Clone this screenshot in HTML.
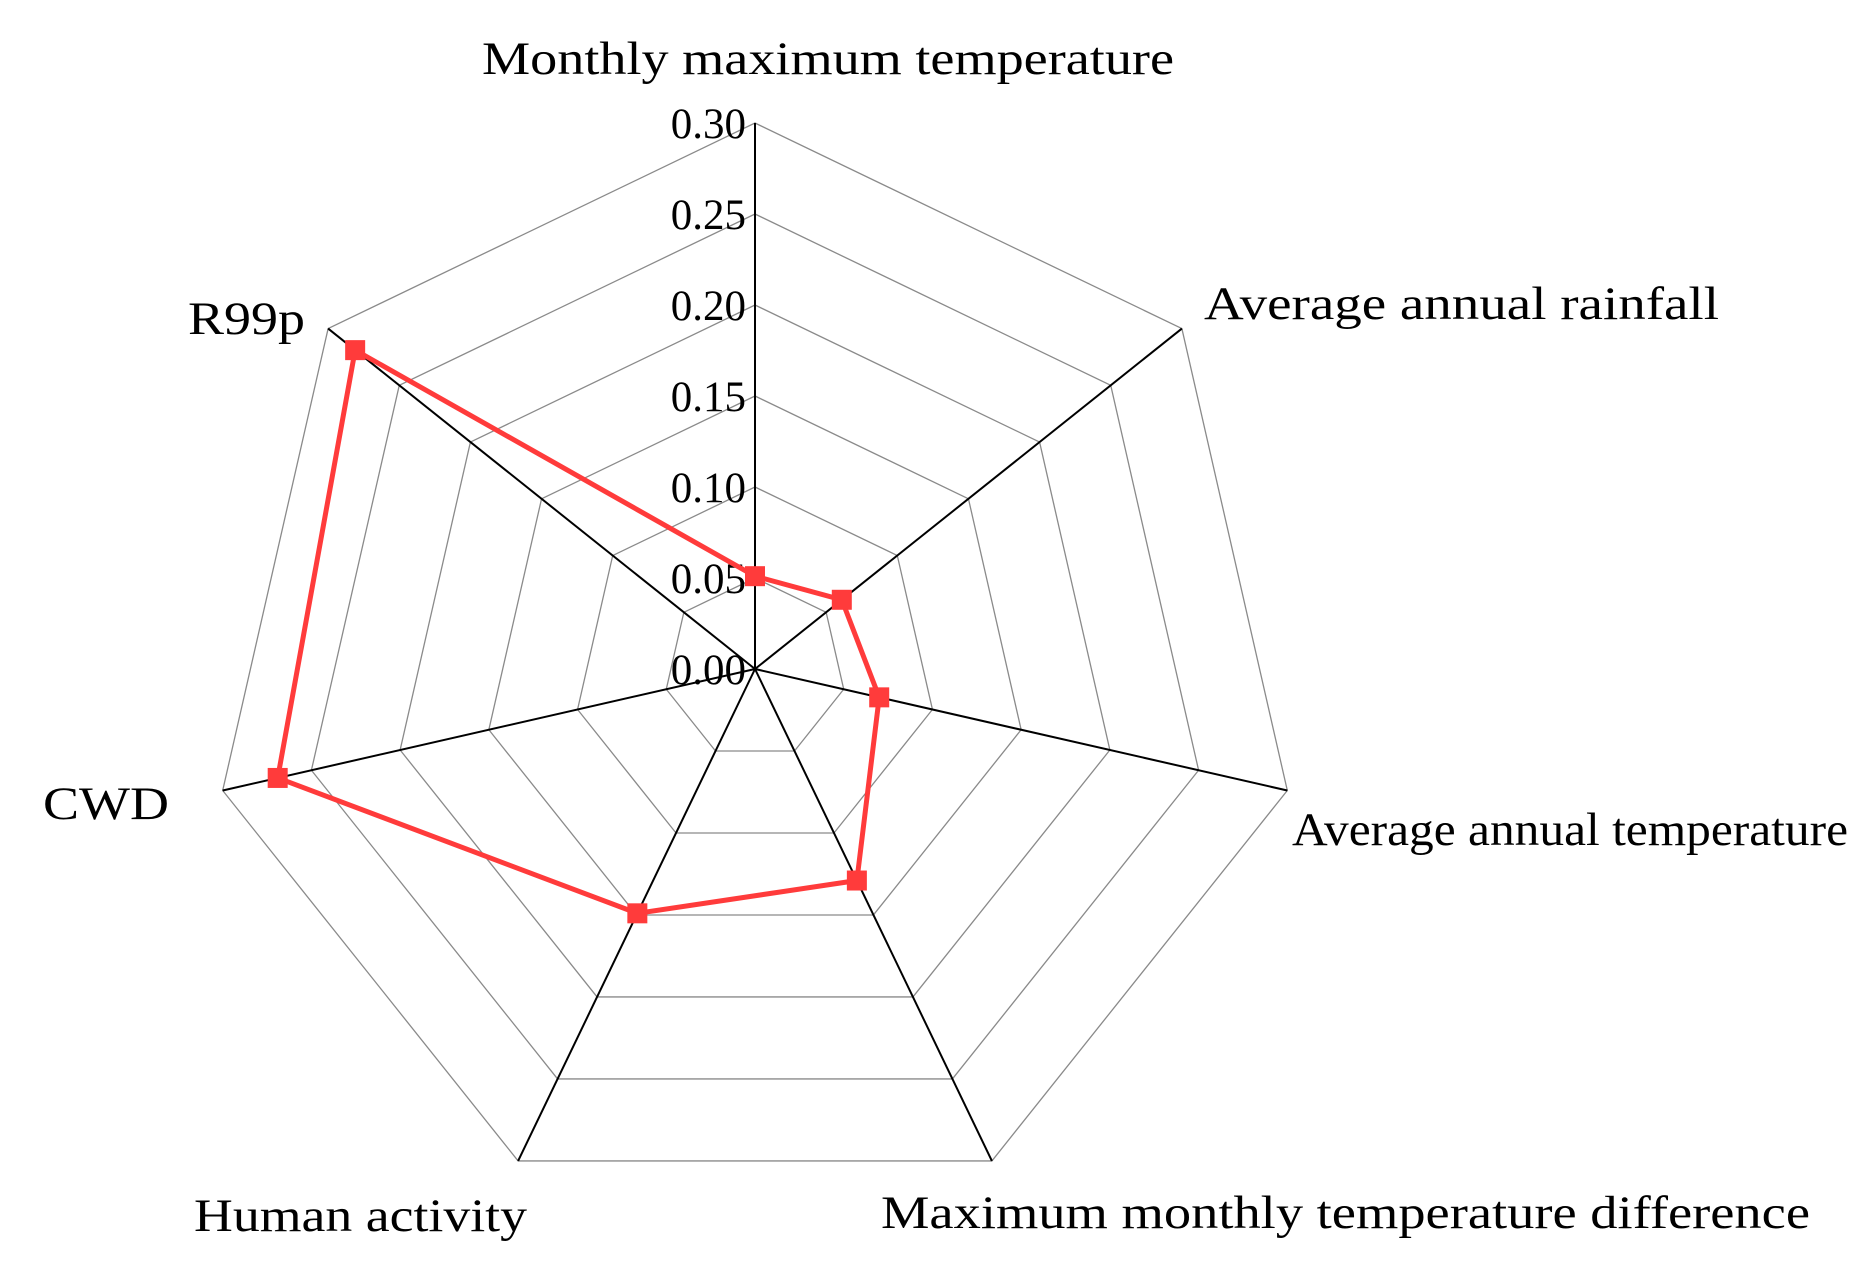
<!DOCTYPE html>
<html><head><meta charset="utf-8"><style>html,body{margin:0;padding:0;background:#fff}svg{display:block}text{font-family:"Liberation Serif",serif;fill:#000}</style></head>
<body>
<svg id="chart" width="1866" height="1277" viewBox="0 0 1866 1277" xmlns="http://www.w3.org/2000/svg"></svg>
<script>
const categories = ["Monthly maximum temperature","Average annual rainfall","Average annual temperature","Maximum monthly temperature difference","Human activity","CWD","R99p"];
const values = [0.051,0.061,0.070,0.129,0.149,0.269,0.281];
const tickValues = [0,0.05,0.10,0.15,0.20,0.25,0.30];
const tickLabels = ["0.00","0.05","0.10","0.15","0.20","0.25","0.30"];

const NS="http://www.w3.org/2000/svg";
const svg=document.getElementById('chart');
const cx=755, cy=669, R=546, vmax=0.30;
const N=categories.length;
function ang(i){return i*2*Math.PI/N;}
function pt(i,v){const r=v/vmax*R;return [cx+r*Math.sin(ang(i)), cy-r*Math.cos(ang(i))];}
function mk(tag,attrs){const e=document.createElementNS(NS,tag);for(const k in attrs)e.setAttribute(k,attrs[k]);svg.appendChild(e);return e;}

tickValues.forEach((t,k)=>{
  if(t===0)return;
  const pts=categories.map((c,i)=>pt(i,t).join(',')).join(' ');
  const g=mk('polygon',{points:pts,fill:'none',stroke:'#8a8a8a','stroke-width':1.3});
  
  
});
categories.forEach((c,i)=>{
  const p=pt(i,vmax);
  const l=mk('line',{x1:cx,y1:cy,x2:p[0],y2:p[1],stroke:'#000','stroke-width':2});
  
  
});
tickValues.forEach((t,k)=>{
  const p=pt(0,t);
  const tx=mk('text',{x:746,y:p[1]+15,'text-anchor':'end','font-size':43});
  tx.textContent=tickLabels[k];
  
  
});
const labelPos=[[482,74,692],[1204,319,515],[1292,845,556],[881,1228,929],[194,1231,333],[43,819,126],[188,334,117]];
categories.forEach((c,i)=>{
  const lp=labelPos[i];
  const tx=mk('text',{x:lp[0],y:lp[1],'font-size':47,textLength:lp[2],lengthAdjust:'spacingAndGlyphs'});
  tx.textContent=c;
  
  
});
const sp=values.map((v,i)=>pt(i,v).join(',')).join(' ');
const poly=mk('polygon',{points:sp,fill:'none',stroke:'#ff3b3b','stroke-width':5,'stroke-linejoin':'miter'});


values.forEach((v,i)=>{
  const p=pt(i,v);
  const r=mk('rect',{x:p[0]-10,y:p[1]-10,width:20,height:20,fill:'#ff3b3b'});
  
  
});
</script>
</body></html>
